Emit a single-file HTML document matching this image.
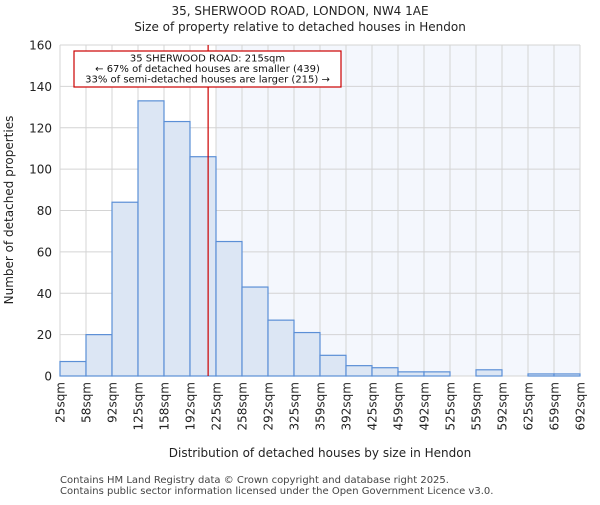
<!DOCTYPE html>
<html><head><meta charset="utf-8"><style>
body{margin:0;background:#fff;font-family:"Liberation Sans","DejaVu Sans",sans-serif}
</style></head><body>
<svg width="600" height="500" xmlns="http://www.w3.org/2000/svg" font-family="DejaVu Sans, Liberation Sans, sans-serif">
<g id="plot"></g>
</svg>
<script>
const binEdges=[25,58,92,125,158,192,225,258,292,325,359,392,425,459,492,525,559,592,625,659,692];
const counts=[7,20,84,133,123,106,65,43,27,21,10,5,4,2,2,0,3,0,1,1];
const yTicks=[0,20,40,60,80,100,120,140,160];
const markerValue=215;
const L=60,R=580,T=45,B=376,YMAX=160;
const NS="http://www.w3.org/2000/svg";
const g=document.getElementById('plot');
const bw=(R-L)/counts.length;
const xi=i=>L+i*bw;
const xv=v=>{for(let i=0;i<binEdges.length-1;i++){if(v<=binEdges[i+1])return xi(i)+(v-binEdges[i])/(binEdges[i+1]-binEdges[i])*bw;}return R;};
const y=v=>B-v/YMAX*(B-T);
function el(t,a,txt){const e=document.createElementNS(NS,t);for(const k in a)e.setAttribute(k,a[k]);if(txt!==undefined)e.textContent=txt;g.appendChild(e);return e;}
let mb=0;while(mb<binEdges.length-1&&binEdges[mb+1]<markerValue)mb++;
let s=el('rect',{x:xi(mb+1),y:T,width:R-xi(mb+1),height:B-T,fill:'#f4f7fd'});


for(let i=0;i<binEdges.length;i++){let l=el('line',{x1:xi(i),x2:xi(i),y1:T,y2:B,stroke:'#d4d4d4','stroke-width':1});

}
yTicks.forEach(t=>{let l=el('line',{x1:L,x2:R,y1:y(t),y2:y(t),stroke:'#d4d4d4','stroke-width':1});


let tx=el('text',{x:L-8,y:y(t)+4.5,'text-anchor':'end','font-size':12,fill:'#222'},t);

});
counts.forEach((c,i)=>{if(c<=0)return;let r=el('rect',{x:xi(i),y:y(c),width:bw,height:B-y(c),fill:'#dce6f4',stroke:'#5b8fd6','stroke-width':1.2});

});
binEdges.forEach((v,i)=>{let tx=el('text',{transform:`translate(${xi(i)+4.5},382) rotate(-90)`,'text-anchor':'end','font-size':12,fill:'#222'},v+'sqm');

});
let ml=el('line',{x1:xv(markerValue),x2:xv(markerValue),y1:T,y2:B,stroke:'#cc0000','stroke-width':1.2});


let ab=el('rect',{x:74,y:51,width:267,height:36,fill:'#fff',stroke:'#cc0000','stroke-width':1.2});


['35 SHERWOOD ROAD: 215sqm','← 67% of detached houses are smaller (439)','33% of semi-detached houses are larger (215) →'].forEach((t,i)=>{let tx=el('text',{x:207.5,y:61.5+i*10.5,'text-anchor':'middle','font-size':10,fill:'#111'},t);

});
let t1=el('text',{x:300,y:15,'text-anchor':'middle','font-size':12,fill:'#222'},'35, SHERWOOD ROAD, LONDON, NW4 1AE');


let t2=el('text',{x:300,y:31,'text-anchor':'middle','font-size':12,fill:'#222'},'Size of property relative to detached houses in Hendon');


let xt=el('text',{x:320,y:457,'text-anchor':'middle','font-size':12,fill:'#222'},'Distribution of detached houses by size in Hendon');


let yt=el('text',{transform:'translate(13,210) rotate(-90)','text-anchor':'middle','font-size':12,fill:'#222'},'Number of detached properties');


let f1=el('text',{x:60,y:483,'font-size':10,fill:'#444'},'Contains HM Land Registry data © Crown copyright and database right 2025.');


let f2=el('text',{x:60,y:494,'font-size':10,fill:'#444'},'Contains public sector information licensed under the Open Government Licence v3.0.');


</script>
</body></html>
